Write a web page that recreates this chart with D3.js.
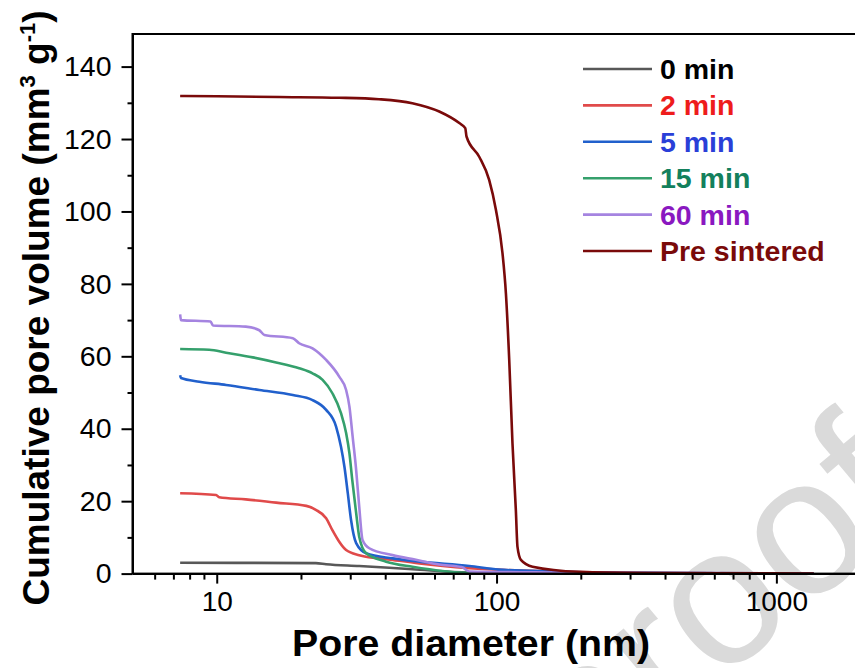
<!DOCTYPE html>
<html>
<head>
<meta charset="utf-8">
<script src="https://cdn.jsdelivr.net/npm/d3@7"></script>
<style>
  html, body { margin: 0; padding: 0; background: #fff; overflow: hidden; }
  svg { display: block; }
  text { font-family: "Liberation Sans", Arial, sans-serif; }
</style>
</head>
<body>
<svg id="chart" width="855" height="668"></svg>
<script>
// ---------------- data ----------------
const seriesNames = ["0 min", "2 min", "5 min", "15 min", "60 min", "Pre sintered"];

const d0   = [7.4, 22.6, 24.6, 32.3, 50.1, 80, 160, 1360];
const v0   = [3.0, 2.9, 2.6, 2.1, 1.2, 0.3, 0.1, 0];

const d2   = [7.4, 9.95, 10.2, 12.7, 16.3, 20.9, 22.6, 24.6, 25.9, 27.4, 29.0, 32.3, 42.5, 53, 80, 160, 350, 1360];
const v2   = [22.2, 21.7, 21.1, 20.5, 19.6, 18.7, 17.6, 15.3, 12.0, 8.8, 6.5, 5.1, 3.8, 2.8, 1.5, 0.6, 0.2, 0];

const d5   = [7.4, 7.45, 8.67, 10.8, 14.2, 18.7, 22.0, 24.6, 26.7, 27.8, 28.6, 29.4, 30.2, 31.5, 34.2, 42.5, 53, 80, 102, 160, 350, 1360];
const v5   = [54.8, 54.0, 53.0, 52.1, 50.7, 49.3, 47.9, 45.2, 40.6, 35.0, 29.5, 22.2, 14.8, 8.4, 5.6, 4.2, 3.3, 2.1, 1.1, 0.6, 0.2, 0];

const d15  = [7.4, 9.4, 10.8, 13.45, 16.3, 19.7, 22.0, 23.9, 25.9, 27.8, 29.0, 29.8, 30.5, 31.5, 32.3, 34.2, 40.3, 50.1, 80, 200, 1360];
const v15  = [62.0, 61.8, 61.0, 59.7, 58.3, 56.7, 55.3, 53.5, 49.8, 44.3, 38.8, 33.2, 25.9, 16.7, 10.2, 5.6, 3.3, 1.9, 0.2, 0.05, 0];

const d60  = [7.4, 7.45, 9.5, 9.7, 12.7, 14.2, 14.8, 18.7, 19.7, 22.0, 24.6, 27.4, 29.0, 29.8, 30.6, 31.5, 32.3, 33.2, 35.1, 42.5, 51.5, 62.4, 75, 80, 167, 350, 1360];
const v60  = [71.6, 70.0, 69.6, 68.5, 68.2, 67.2, 65.9, 65.0, 63.6, 62.2, 59.0, 54.4, 50.7, 46.1, 37.8, 28.6, 18.5, 9.3, 7.0, 5.1, 3.8, 2.5, 1.8, 0.6, 0.3, 0.08, 0];

const dPre = [7.4, 10, 16.7, 27.4, 38, 50, 62.4, 73.6, 77.3, 78.1, 86.7, 94.1, 99.5, 105, 108, 111, 114, 117.2, 118.8, 122.2, 134.5, 197, 350, 700, 1360];
const vPre = [131.9, 131.8, 131.6, 131.4, 131.0, 129.9, 127.6, 124.4, 123.0, 120.7, 115.1, 108.7, 100.4, 88.5, 77.4, 59.0, 36.0, 17.6, 7.4, 3.8, 1.9, 0.5, 0.17, 0.08, 0.03];

const xMajorTicks = [10, 100, 1000];
const xMinorTicks = [6, 7, 8, 9, 20, 30, 40, 50, 60, 70, 80, 90, 200, 300, 400, 500, 600, 700, 800, 900];
const yMajorTicks = [0, 20, 40, 60, 80, 100, 120, 140];
const yMinorTicks = [10, 30, 50, 70, 90, 110, 130];

// ---------------- styling ----------------
const lineColors = ["#585858", "#e04a4a", "#2160cc", "#35a06c", "#a584e0", "#7a0a0a"];
const textColors = ["#000000", "#ee1c1c", "#2a3fd8", "#13805c", "#8a18c0", "#7a0a0a"];

const svg = d3.select("#chart");
const pLeft = 132.5, pTop = 34, pBottom = 573.6, pRight = 860.6;

const x = d3.scaleLog().domain([5, 2000]).range([pLeft, pRight]);
const y = d3.scaleLinear().domain([0, 149]).range([pBottom, pTop]);

// watermark
svg.append("text")
  .attr("transform", "translate(925,510) rotate(-40)")
  .attr("text-anchor", "end")
  .attr("font-size", 195)
  .attr("fill", "#dadada")
  .text("Journal Pre-proof");

// clip
svg.append("defs").append("clipPath").attr("id", "clip")
  .append("rect").attr("x", pLeft).attr("y", pTop).attr("width", pRight - pLeft).attr("height", pBottom - pTop);

const series = [
  { name: seriesNames[0], d: d0, v: v0 },
  { name: seriesNames[1], d: d2, v: v2 },
  { name: seriesNames[2], d: d5, v: v5 },
  { name: seriesNames[3], d: d15, v: v15 },
  { name: seriesNames[4], d: d60, v: v60 },
  { name: seriesNames[5], d: dPre, v: vPre }
];

const line = d3.line().x(p => x(p[0])).y(p => y(p[1])).curve(d3.curveMonotoneX);

const gLines = svg.append("g").attr("clip-path", "url(#clip)");
series.forEach((s, i) => {
  const pts = s.d.map((dv, k) => [dv, s.v[k]]);
  gLines.append("path")
    .datum(pts)
    .attr("d", line)
    .attr("fill", "none")
    .attr("stroke", lineColors[i])
    .attr("stroke-width", 2.6)
    .attr("stroke-linejoin", "round");
});

// frame
svg.append("rect")
  .attr("x", pLeft).attr("y", pTop)
  .attr("width", pRight - pLeft).attr("height", pBottom - pTop)
  .attr("fill", "none").attr("stroke", "#000").attr("stroke-width", 2);

// axes
function styleAxis(g) {
  g.select(".domain").attr("stroke", "#000").attr("stroke-width", 2);
  g.selectAll(".tick line").attr("stroke", "#000").attr("stroke-width", 2);
}

const xAxisMinor = svg.append("g").attr("transform", `translate(0,${pBottom})`)
  .call(d3.axisBottom(x).tickValues(xMinorTicks).tickSize(6).tickFormat("").tickSizeOuter(0));
styleAxis(xAxisMinor);
xAxisMinor.select(".domain").remove();

const xAxis = svg.append("g").attr("transform", `translate(0,${pBottom})`)
  .call(d3.axisBottom(x).tickValues(xMajorTicks).tickSize(10).tickSizeOuter(0).tickPadding(8)
    .tickFormat(d3.format("d")));
styleAxis(xAxis);
xAxis.selectAll("text").attr("font-size", 28).attr("fill", "#000")
  .attr("font-family", "Liberation Sans, Arial, sans-serif");

const yAxisMinor = svg.append("g").attr("transform", `translate(${pLeft},0)`)
  .call(d3.axisLeft(y).tickValues(yMinorTicks).tickSize(5).tickFormat("").tickSizeOuter(0));
styleAxis(yAxisMinor);
yAxisMinor.select(".domain").remove();

const yAxis = svg.append("g").attr("transform", `translate(${pLeft},0)`)
  .call(d3.axisLeft(y).tickValues(yMajorTicks).tickSize(11).tickSizeOuter(0).tickPadding(10)
    .tickFormat(d3.format("d")));
styleAxis(yAxis);
yAxis.selectAll("text").attr("font-size", 28.5).attr("fill", "#000")
  .attr("font-family", "Liberation Sans, Arial, sans-serif");

// axis titles
svg.append("text")
  .attr("x", 471).attr("y", 656)
  .attr("text-anchor", "middle")
  .attr("font-size", 36).attr("font-weight", "bold").attr("fill", "#000")
  .attr("textLength", 358).attr("lengthAdjust", "spacingAndGlyphs")
  .text("Pore diameter (nm)");

const yt = svg.append("text")
  .attr("transform", "translate(49,308) rotate(-90)")
  .attr("text-anchor", "middle")
  .attr("font-size", 37).attr("font-weight", "bold").attr("fill", "#000");
yt.append("tspan").text("Cumulative pore volume (mm");
yt.append("tspan").attr("dy", -14).attr("font-size", 22).text("3");
yt.append("tspan").attr("dy", 14).text(" g");
yt.append("tspan").attr("dy", -14).attr("font-size", 22).text("-1");
yt.append("tspan").attr("dy", 14).text(")");

// legend
const legX0 = 583, legX1 = 652, legTx = 660, legY0 = 69, legDy = 36.4;
const leg = svg.append("g");
series.forEach((s, i) => {
  const yy = legY0 + i * legDy;
  leg.append("line").attr("x1", legX0).attr("x2", legX1).attr("y1", yy).attr("y2", yy)
    .attr("stroke", lineColors[i]).attr("stroke-width", 2.6);
  leg.append("text").attr("x", legTx).attr("y", yy + 10)
    .attr("font-size", 28.5).attr("font-weight", "bold").attr("fill", textColors[i])
    .text(s.name);
});
</script>
</body>
</html>
